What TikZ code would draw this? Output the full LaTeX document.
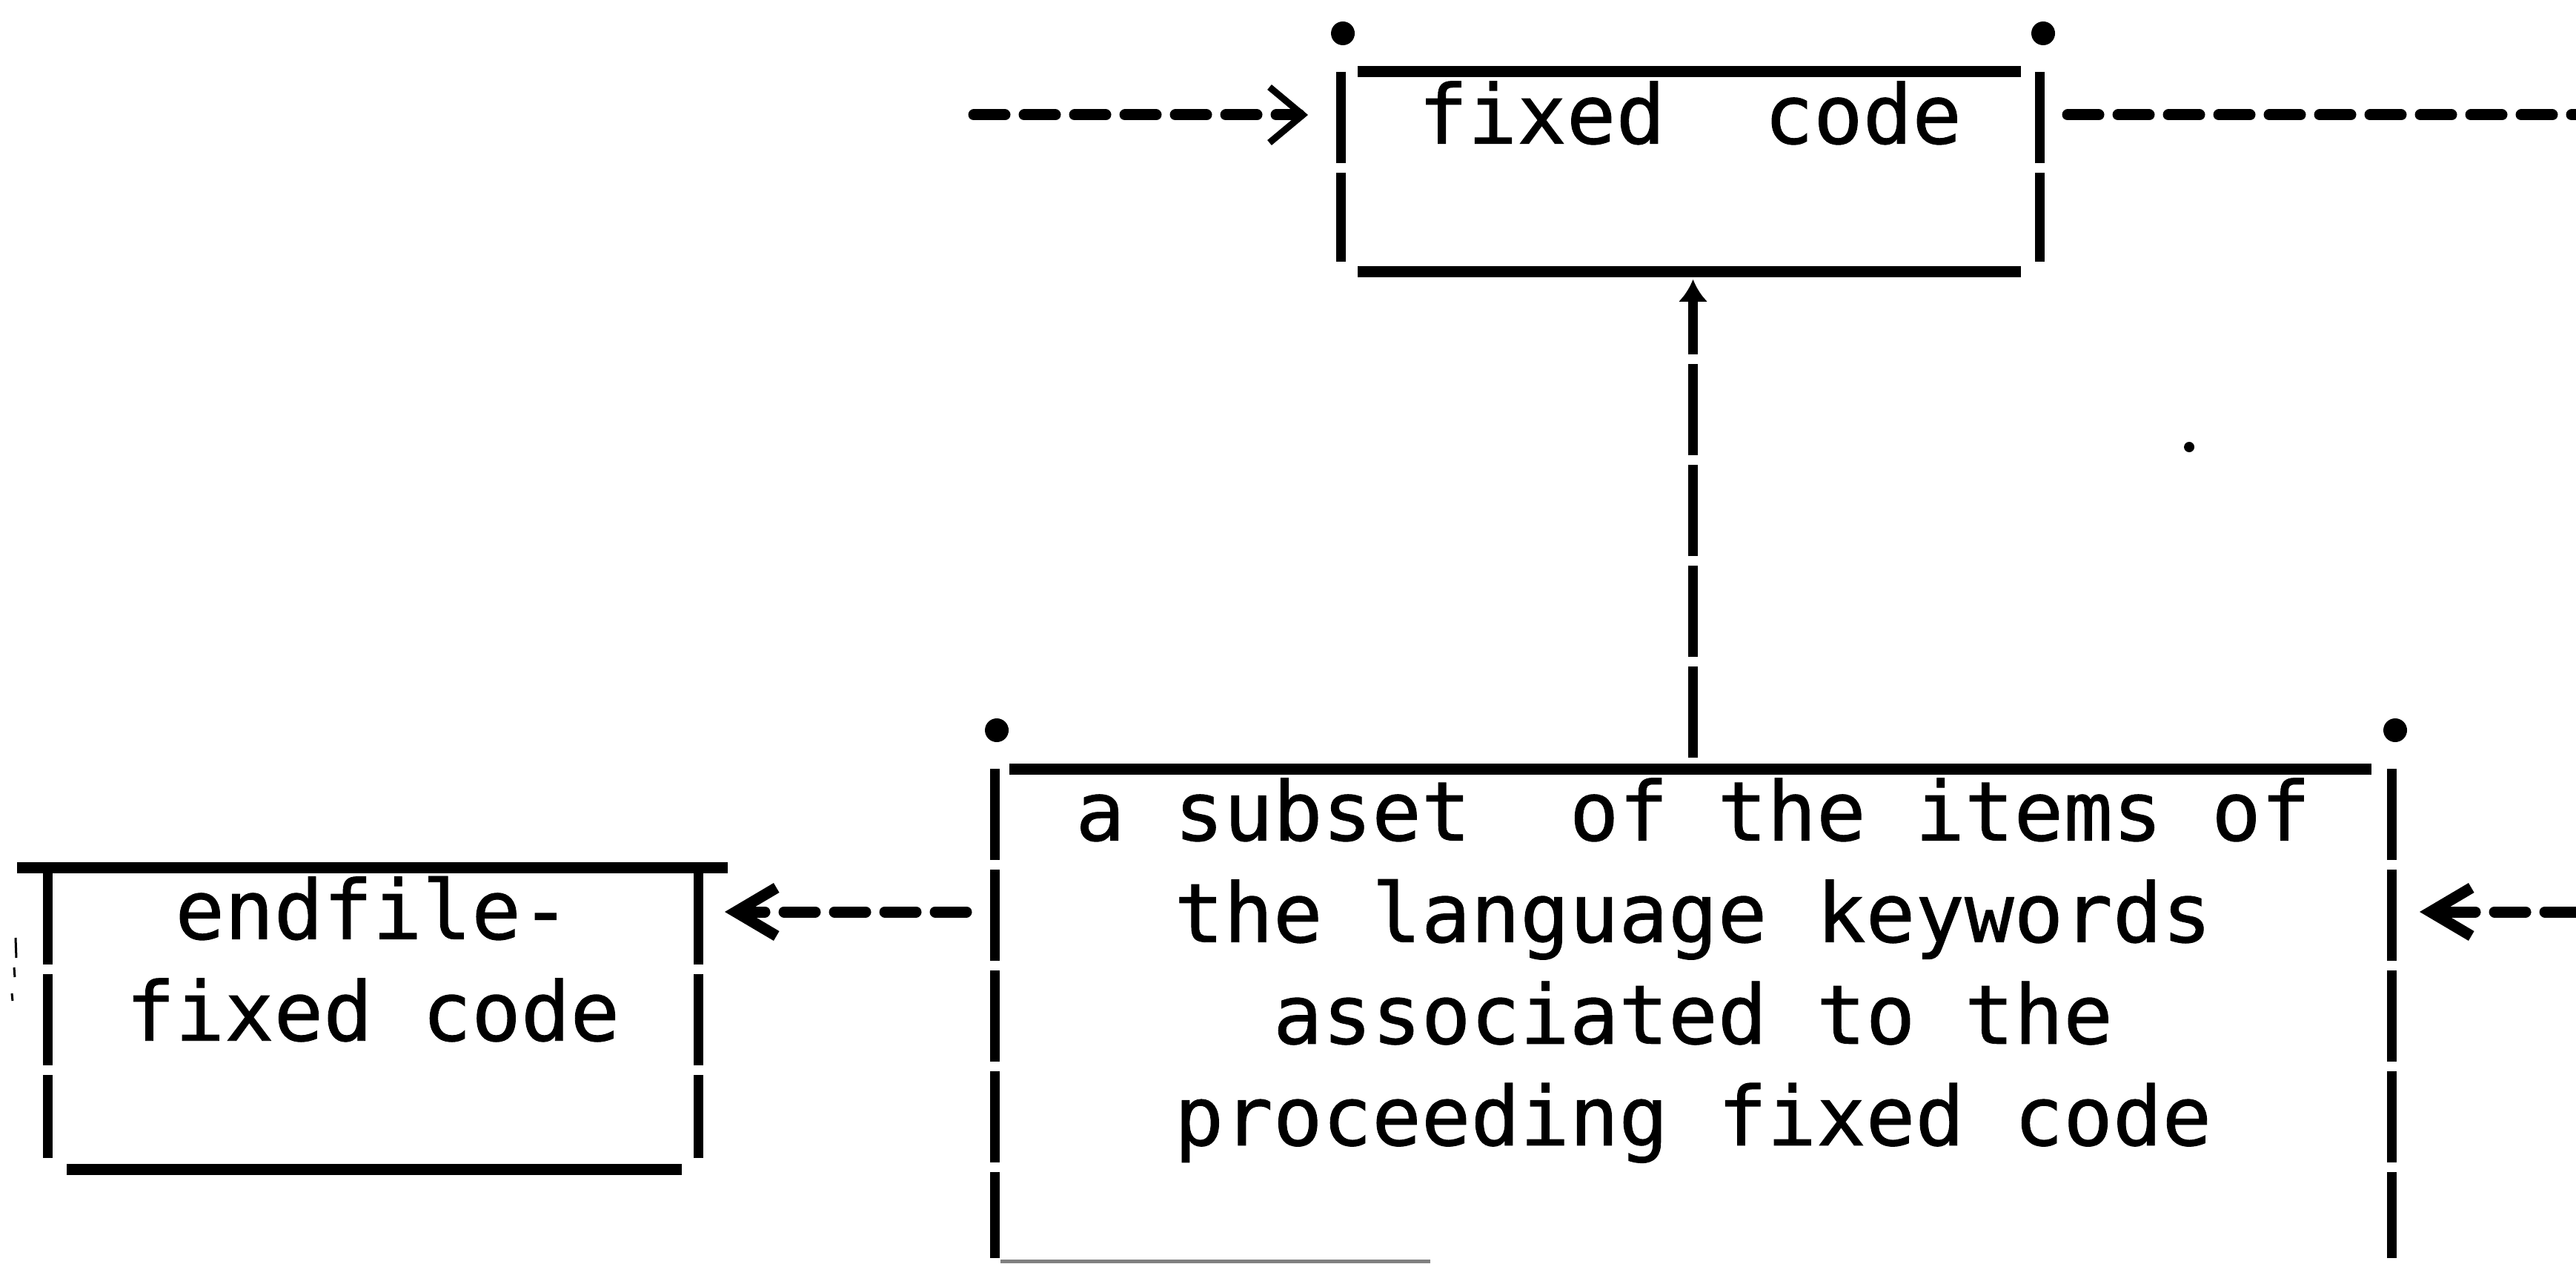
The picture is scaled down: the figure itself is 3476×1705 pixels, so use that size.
\documentclass[tikz,border=0pt]{standalone}
\usepackage{fontspec}
\newfontfamily\ttyfont[FakeBold=0.8]{DejaVu Sans Mono}
\usetikzlibrary{arrows.meta,positioning}
\tikzset{frm/.style={inner sep=0,outer sep=0},
 bar/.style={line width=1.3mm,dash pattern=on 12.3mm off 1.3mm},
 rule/.style={line width=1.5mm},
 flow/.style={line width=1.5mm,line cap=round,dash pattern=on 4.2mm off 2.6mm},
 lhead/.style={-{Straight Barb[length=5.5mm,width=6.5mm]}},
 txt/.style={align=center,inner sep=0,font=\ttyfont\fontsize{31.5pt}{39pt}\selectfont}}

\begin{document}
\begin{tikzpicture}[x=0.1mm,y=-0.1mm]
\useasboundingbox (0,0) rectangle (3476,1705);
\node[frm,minimum width=94.3mm,minimum height=27mm](fixed) at(2280.5,232){};
\node[frm,minimum width=188.5mm,minimum height=66.6mm](subset) at(2284.5,1370){};
\node[frm,minimum width=87.8mm,minimum height=40.7mm](endfile) at(503,1373.5){};
% box sides and rules
\foreach \n/\a/\b in {fixed/0/1.4,subset/0/0.6,endfile/0.8/1.5}{
 \draw[bar]([yshift=-\a mm]\n.north west)--([yshift=\b mm]\n.south west);
 \draw[bar]([yshift=-\a mm]\n.north east)--([yshift=\b mm]\n.south east);}
\foreach \n/\l/\r in {fixed/2.3/-2.5,subset/2/-2.7,endfile/-4.1/4}
 \draw[rule]([xshift=\l mm]\n.north west)--([xshift=\r mm]\n.north east);
\draw[rule]([xshift=2.3mm]fixed.south west)--([xshift=-2.5mm]fixed.south east);
\draw[rule]([xshift=2.6mm]endfile.south west)--([xshift=-2.2mm]endfile.south east);
\draw[line width=.5mm,gray]([xshift=.8mm,yshift=.2mm]subset.south west)--++(58mm,0);
% corner dots
\foreach \n in {fixed,subset}{
 \fill([shift={(.3mm,5.2mm)}]\n.north west)circle(1.6mm);
 \fill([shift={(.5mm,5.2mm)}]\n.north east)circle(1.6mm);}
% texts
\node[txt,below=0pt of fixed.north](fixedtxt){\strut fixed\ \ code};
\node[txt,below=0pt of subset.north](subsettxt){\strut a subset\ \ of the items of\\the language keywords\\associated to the\\proceeding fixed code};
\node[txt,below=0pt of endfile.north](endfiletxt){\strut endfile-\\fixed code};
% connectors
\coordinate(in1) at(1314,155);
\coordinate(out1) at(3476,155);
\coordinate(in2) at(3476,1230);
\draw[flow,-{Straight Barb[length=4.5mm,width=7.5mm,line width=.9mm]},shorten >=4.4mm](in1)--(in1-|fixed.west);
\draw[flow,shorten <=3.8mm](in1-|fixed.east)--(out1);
\draw[flow,lhead,shorten >=3.8mm](in2)--(in2-|subset.east);
\draw[flow,lhead,shorten <=3.8mm,shorten >=3.6mm](in2-|subset.west)--(in2-|endfile.east);
\draw[bar,-{Latex[length=3mm,width=4mm]},shorten <=1.5mm,shorten >=1mm](subset.north)--(subset.north|-fixed.south);
% specks
\fill(2954,603)circle(.7mm);
\draw[line width=.3mm](21,1265)--(22,1292)(19,1305)--(20,1318)(16,1340)--(17,1350);
\end{tikzpicture}
\end{document}
